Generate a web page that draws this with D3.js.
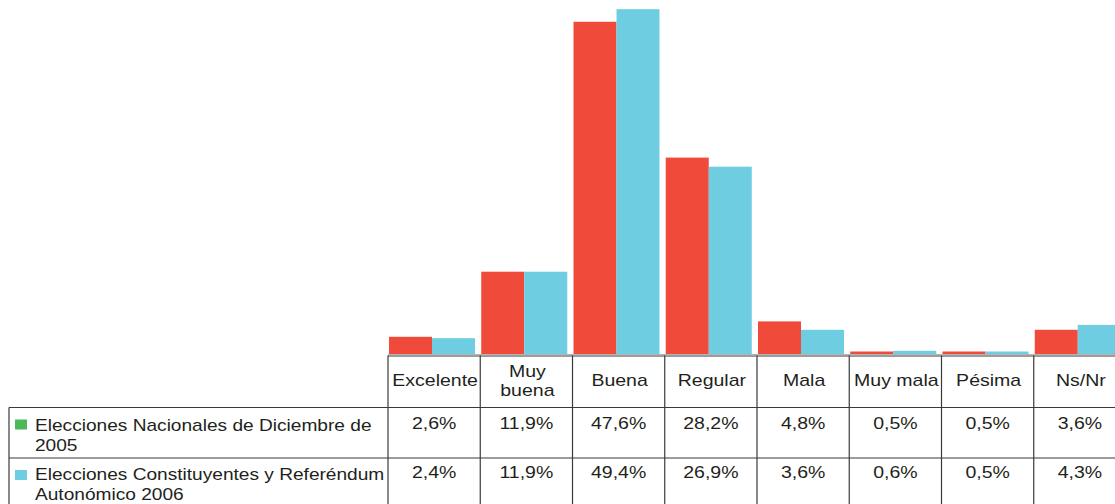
<!DOCTYPE html>
<html>
<head>
<meta charset="utf-8">
<script src="https://cdn.jsdelivr.net/npm/d3@7"></script>
<style>
  html, body { margin: 0; padding: 0; background: #fff; }
  svg { display: block; }
  text { font-family: "Liberation Sans", Arial, Helvetica, sans-serif; fill: #231f20; }
</style>
</head>
<body>
<svg id="chart" width="1115" height="504"></svg>
<script>
// ---- Data ----
const categories = ["Excelente", "Muy buena", "Buena", "Regular", "Mala", "Muy mala", "Pésima", "Ns/Nr"];
const categoryLines = [["Excelente"], ["Muy", "buena"], ["Buena"], ["Regular"], ["Mala"], ["Muy mala"], ["Pésima"], ["Ns/Nr"]];
const seriesNames = ["Elecciones Nacionales de Diciembre de 2005", "Elecciones Constituyentes y Referéndum Autonómico 2006"];
const seriesLines = [["Elecciones Nacionales de Diciembre de", "2005"], ["Elecciones Constituyentes y Referéndum", "Autonómico 2006"]];
const values2005 = [2.6, 11.9, 47.6, 28.2, 4.8, 0.5, 0.5, 3.6];
const values2006 = [2.4, 11.9, 49.4, 26.9, 3.6, 0.6, 0.5, 4.3];
const seriesValues = [values2005, values2006];
const barColors = ["#EF4A3A", "#6ECDE1"];
const markerColors = ["#4DB857", "#6ECDE1"];

// ---- Layout ----
const svg = d3.select("#chart");
const colW = 92.25;
const tableLeft = 388;
const baseline = 355.5;
const headerBottom = 407.5;
const row2Top = 458;
const tableBottom = 520;
const legendLeft = 9;

const x0 = d3.scaleBand().domain(categories).range([tableLeft, tableLeft + colW * categories.length]).padding(0);
const x1 = d3.scaleBand().domain([0, 1]).range([1, 87]).padding(0);
const y = d3.scaleLinear().domain([0, 50]).range([355, 5]);

// ---- Bars ----
const groups = svg.append("g").selectAll("g")
  .data(categories)
  .join("g")
  .attr("transform", d => `translate(${x0(d)},0)`);

groups.selectAll("rect")
  .data((d, i) => seriesValues.map((vals, s) => ({ s, v: vals[i] })))
  .join("rect")
  .attr("x", d => x1(d.s))
  .attr("width", x1.bandwidth())
  .attr("y", d => y(d.v))
  .attr("height", d => y(0) - y(d.v))
  .attr("fill", d => barColors[d.s]);

// ---- Baseline ----
svg.append("line").attr("x1", tableLeft).attr("x2", 1115).attr("y1", 354.5).attr("y2", 354.5)
  .attr("stroke", "#b5b5b5").attr("stroke-width", 1);

// ---- Table grid ----
const grid = svg.append("g").attr("stroke", "#3a3a3a").attr("stroke-width", 1.2).attr("fill", "none");
grid.append("line").attr("x1", tableLeft).attr("x2", 1115).attr("y1", baseline + 0.5).attr("y2", baseline + 0.5);
grid.append("line").attr("x1", legendLeft).attr("x2", 1115).attr("y1", headerBottom).attr("y2", headerBottom);
grid.append("line").attr("x1", legendLeft).attr("x2", 1115).attr("y1", row2Top).attr("y2", row2Top);
grid.append("line").attr("x1", legendLeft).attr("x2", legendLeft).attr("y1", headerBottom).attr("y2", tableBottom);
const bounds = categories.map(c => x0(c)).concat([x0.range()[1]]);
grid.selectAll("line.v").data(bounds).join("line").attr("class", "v")
  .attr("x1", d => d).attr("x2", d => d)
  .attr("y1", baseline).attr("y2", tableBottom);

// ---- Text helper ----
function stretchedText(parent, x, yy, str, anchor, sx) {
  return parent.append("text")
    .attr("transform", `translate(${x},${yy}) scale(${sx},1)`)
    .attr("text-anchor", anchor)
    .attr("font-size", 16)
    .text(str);
}

// ---- Header text ----
const hdr = svg.append("g");
categories.forEach((c, i) => {
  const cx = x0(c) + x0.bandwidth() / 2 + 1;
  const lines = categoryLines[i];
  const lh = 19;
  const start = 386 - (lines.length - 1) * lh / 2;
  lines.forEach((ln, k) => stretchedText(hdr, cx, start + k * lh, ln, "middle", 1.22));
});

// ---- Rows ----
const fmt = v => d3.format(".1f")(v).replace(".", ",") + "%";
const rowTops = [headerBottom, row2Top];
const valueBaselines = [428.5, 477.5];
const legendBaselines = [431, 480];
seriesNames.forEach((name, s) => {
  const g = svg.append("g");
  g.append("rect").attr("x", 15).attr("y", rowTops[s] + 12).attr("width", 12).attr("height", 10)
    .attr("fill", markerColors[s]);
  seriesLines[s].forEach((ln, k) => stretchedText(g, 35, legendBaselines[s] + k * 20, ln, "start", 1.195));
  seriesValues[s].forEach((v, i) => {
    const cx = x0(categories[i]) + x0.bandwidth() / 2;
    stretchedText(g, cx, valueBaselines[s], fmt(v), "middle", 1.22);
  });
});
</script>
</body>
</html>
